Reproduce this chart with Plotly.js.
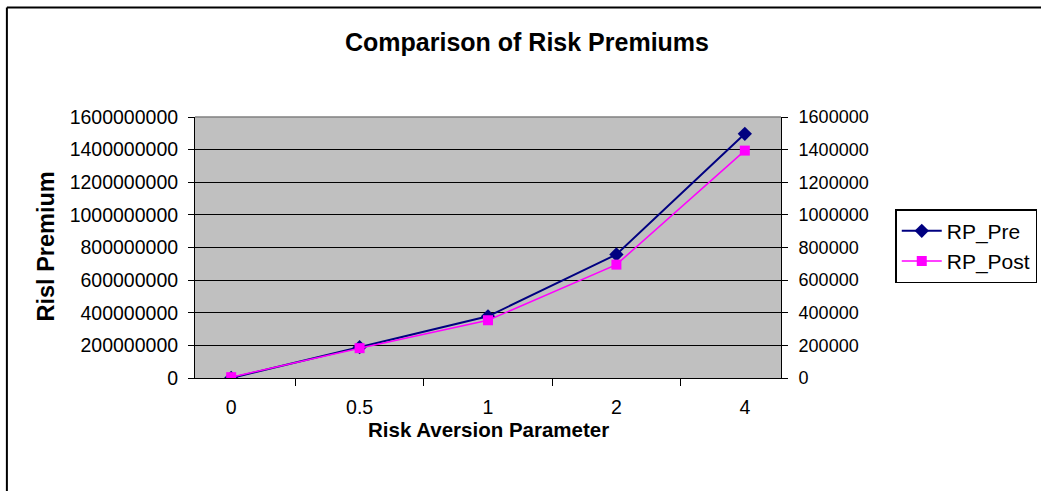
<!DOCTYPE html>
<html>
<head>
<meta charset="utf-8">
<script src="https://cdn.plot.ly/plotly-3.0.1.min.js"></script>
<style>html,body{margin:0;padding:0;background:#fff;}#chart{width:1041px;height:491px;}</style>
</head>
<body>
<div id="chart"></div>
<script>
const categories = ["0", "0.5", "1", "2", "4"];
const rpPre = [0, 189000000, 378000000, 757000000, 1497000000];
const rpPost = [5000, 183000, 354000, 695000, 1394000];
const leftTicks = [0, 200000000, 400000000, 600000000, 800000000, 1000000000, 1200000000, 1400000000, 1600000000];
const rightTicks = [0, 200000, 400000, 600000, 800000, 1000000, 1200000, 1400000, 1600000];

const fam = "Liberation Sans, Arial, sans-serif";
const font = {family: fam, size: 19, color: "#000"};

const traces = [
  {x: categories, y: rpPre, name: "RP_Pre", type: "scatter", mode: "lines+markers",
   line: {color: "#000080", width: 2}, marker: {symbol: "diamond", size: 11, color: "#000080"}, yaxis: "y"},
  {x: categories, y: rpPost, name: "RP_Post", type: "scatter", mode: "lines+markers",
   line: {color: "#FF00FF", width: 1.5}, marker: {symbol: "square", size: 10, color: "#FF00FF"}, yaxis: "y2"}
];

const layout = {
  width: 1041, height: 491,
  margin: {l: 195, r: 260, t: 117, b: 113},
  paper_bgcolor: "#fff", plot_bgcolor: "#C0C0C0",
  font: font,
  showlegend: true,
  legend: {xref: "container", yref: "container", x: 0.86, y: 0.574, xanchor: "left", yanchor: "top",
    bordercolor: "#000", borderwidth: 1.5,
    bgcolor: "#fff", font: {family: fam, size: 21, color: "#000"}, tracegroupgap: 2, itemwidth: 40},
  xaxis: {type: "category", tickson: "boundaries", ticks: "outside", ticklen: 7, tickcolor: "#000",
    showline: true, linecolor: "#000", linewidth: 1, showgrid: false, zeroline: false,
    ticklabelstandoff: 12, tickfont: {size: 19.5}, fixedrange: true},
  yaxis: {range: [0, 1600000000], tickvals: leftTicks, ticktext: leftTicks.map(String), ticks: "outside", ticklen: 6,
    tickcolor: "#000", showline: true, linecolor: "#000", linewidth: 1, showgrid: true, gridcolor: "#000",
    gridwidth: 1, zeroline: false, ticklabelstandoff: 6, tickfont: {size: 19.5}},
  yaxis2: {range: [0, 1600000], tickvals: rightTicks, ticktext: rightTicks.map(String), overlaying: "y", side: "right",
    ticks: "outside", ticklen: 6, tickcolor: "#000", showline: true, linecolor: "#000", linewidth: 1,
    showgrid: false, zeroline: false, ticklabelstandoff: 7, tickfont: {size: 18}},
  annotations: [
    {text: "<b>Comparison of Risk Premiums</b>", xref: "paper", yref: "paper", x: 0.5, xshift: 39, y: 1, yshift: 75,
     showarrow: false, font: {family: fam, size: 25, color: "#000"}, xanchor: "center", yanchor: "middle"},
    {text: "<b>Risk Aversion Parameter</b>", xref: "paper", yref: "paper", x: 0.5, y: 0, yshift: -51,
     showarrow: false, font: {family: fam, size: 20.5, color: "#000"}, xanchor: "center", yanchor: "middle"},
    {text: "<b>Risl Premium</b>", xref: "paper", yref: "paper", x: 0, xshift: -150, y: 0.5, yshift: 1, textangle: -90,
     showarrow: false, font: {family: fam, size: 23.5, color: "#000"}, xanchor: "center", yanchor: "middle"}
  ],
  shapes: [
    {type: "line", xref: "paper", yref: "paper", x0: 0, x1: 1, y0: 1, y1: 1, line: {color: "#808080", width: 1.5}, layer: "above"},
    {type: "line", xref: "paper", yref: "paper", x0: -0.321, x1: -0.321, y0: 1.42, y1: -0.5, line: {color: "#000", width: 2}},
    {type: "line", xref: "paper", yref: "paper", x0: -0.321, x1: 1.5, y0: 1.42, y1: 1.42, line: {color: "#000", width: 2}}
  ]
};

Plotly.newPlot("chart", traces, layout, {displayModeBar: false, staticPlot: true});
</script>
</body>
</html>
